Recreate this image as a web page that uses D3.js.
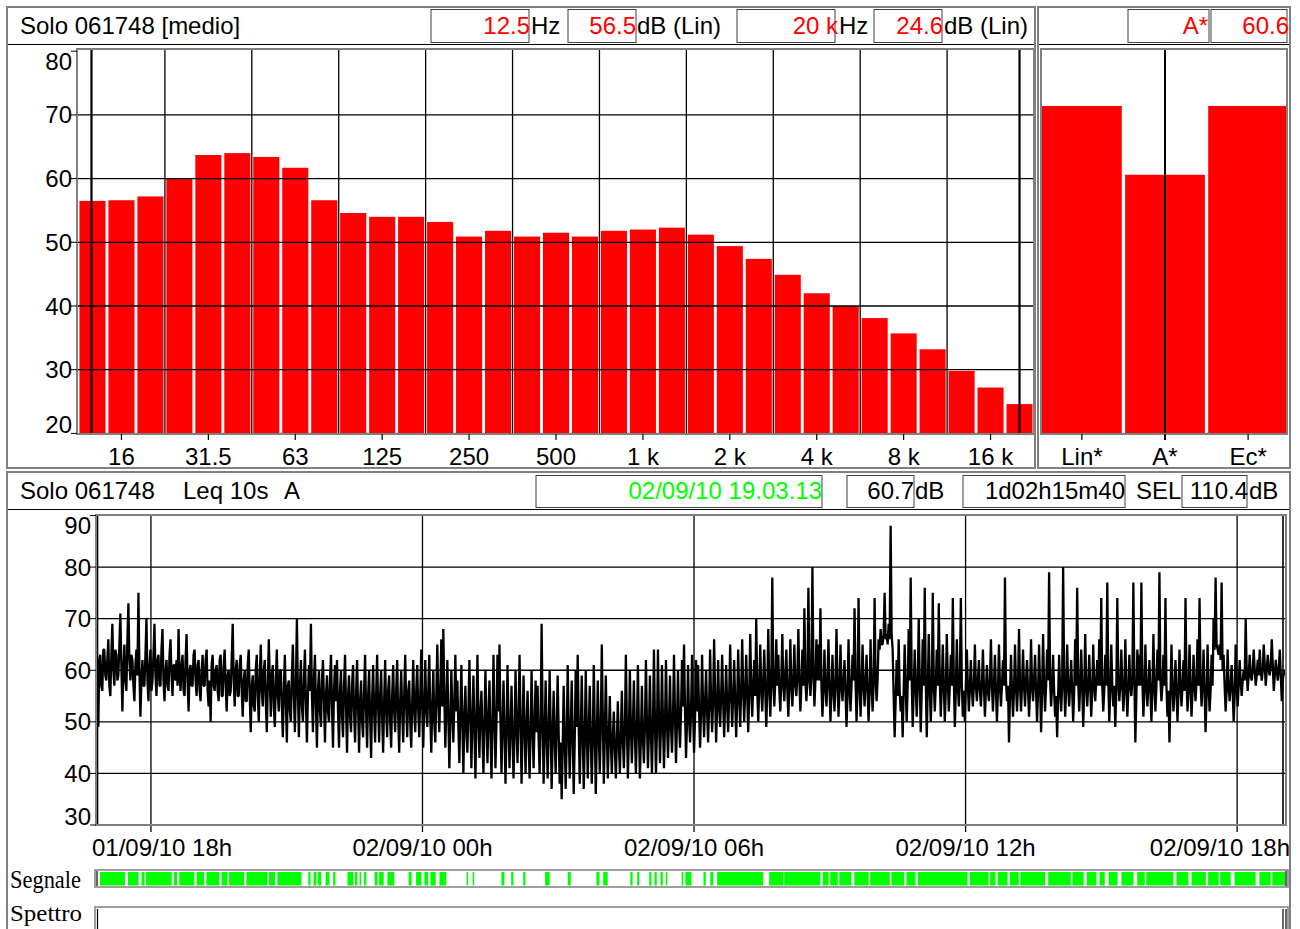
<!DOCTYPE html>
<html>
<head>
<meta charset="utf-8">
<script src="https://cdn.jsdelivr.net/npm/d3@7"></script>
<style>
  body { margin: 0; background: #fff; }
  svg { display: block; }
</style>
</head>
<body>
<svg id="chart" width="1300" height="929"></svg>
<script>
// ---- data ----
const bands = ["12.5","16","20","25","31.5","40","50","63","80","100","125","160","200","250","315","400","500","630","800","1 k","1.25 k","1.6 k","2 k","2.5 k","3.15 k","4 k","5 k","6.3 k","8 k","10 k","12.5 k","16 k","20 k"];
const spectrum = [56.5,56.6,57.2,60.0,63.7,64.0,63.4,61.7,56.6,54.6,54.0,54.0,53.2,50.9,51.8,50.9,51.5,50.9,51.8,52.0,52.3,51.2,49.4,47.4,44.9,42.0,40.0,38.1,35.7,33.2,29.8,27.2,24.6];
const bandTicks = ["16","31.5","63","125","250","500","1 k","2 k","4 k","8 k","16 k"];
const bandGrid = ["25","50","100","200","400","800","1.6 k","3.15 k","6.3 k","12.5 k"];
const totals = ["Lin*","A*","Ec*"];
const totalValues = [71.4, 60.6, 71.4];
const dbTicks = [20,30,40,50,60,70,80];
const leqTicks = [30,40,50,60,70,80,90];
const timeTicks = ["2010-09-01T18:00:00","2010-09-02T00:00:00","2010-09-02T06:00:00","2010-09-02T12:00:00","2010-09-02T18:00:00"];
const leqStart = "2010-09-01T16:47:33";
const leqEnd = "2010-09-02T19:03:13";

// Leq 10s A, decimated (about 80 s per value), dB
const leq = [
  71,58,49,62,63,57,56,64,64,59,58,62,66,57,55,63,69,60,57,64,63,58,59,65,71,61,52,60,65,58,56,66,73,62,58,63,62,57,54,61,
  64,59,75,60,51,58,62,57,57,63,70,58,54,61,64,56,58,63,69,59,55,62,63,57,57,64,68,58,54,60,62,57,56,63,66,59,55,61,61,58,
  62,57,68,59,56,61,63,56,55,62,67,58,52,60,61,57,57,63,64,58,55,61,62,56,54,60,63,57,57,62,64,56,53,58,50,61,63,57,56,60,
  61,56,54,62,63,55,55,61,64,57,52,59,60,55,56,62,69,58,53,60,62,55,55,61,63,56,51,58,60,54,54,61,64,55,48,57,59,53,52,60,
  63,55,50,59,65,56,53,60,62,54,48,57,66,58,51,59,61,53,49,58,64,55,52,60,60,53,47,56,63,54,46,57,58,52,50,59,65,55,48,57,
  70,56,47,57,62,53,50,58,64,54,46,55,61,56,69,55,48,58,63,53,45,56,60,52,49,58,62,54,46,55,59,52,50,58,63,53,45,56,61,54,
  62,52,45,56,60,51,47,57,63,53,44,55,59,51,48,57,61,52,46,55,62,53,44,54,58,50,47,56,63,52,45,55,60,51,43,54,61,52,46,55,
  63,53,46,55,60,51,44,54,62,52,47,56,59,50,45,55,61,52,48,56,62,51,44,54,60,52,46,55,63,53,47,56,58,50,45,54,62,52,48,56,
  61,52,47,55,64,53,45,54,62,52,49,56,63,51,44,53,60,50,46,55,65,54,48,56,66,53,68,55,45,53,62,51,41,50,60,52,46,54,63,52,
  58,49,42,52,61,50,40,51,57,48,44,52,62,51,41,50,59,49,39,50,63,51,43,52,56,48,40,50,60,50,42,51,58,48,39,49,63,51,41,50,
  63,52,65,50,40,49,58,48,38,48,61,50,41,49,57,47,39,48,60,49,42,51,63,50,38,48,59,49,40,49,56,47,39,48,60,49,41,50,58,48,
  57,47,40,49,69,51,38,47,58,48,39,48,60,49,37,47,56,47,40,49,59,48,38,46,35,45,57,47,37,46,61,49,39,48,58,47,36,46,60,49,
  63,49,38,47,59,48,37,46,60,49,39,48,57,47,38,46,61,49,36,46,58,48,40,49,65,51,38,47,59,48,39,47,55,46,40,47,52,45,39,46,
  54,46,40,47,56,47,41,48,63,50,39,47,60,49,42,49,58,48,40,48,61,49,39,47,57,47,42,49,62,50,41,48,59,48,40,49,64,50,40,48,
  64,51,42,49,61,50,41,49,62,50,43,50,59,49,44,51,63,51,42,50,60,50,45,52,62,53,65,52,43,50,61,51,46,52,63,52,44,51,62,52,
  61,52,45,52,63,53,47,54,60,52,46,53,64,54,48,54,66,55,46,53,62,53,49,55,63,54,47,54,61,53,48,55,65,55,49,55,62,54,47,54,
  64,55,49,56,66,56,50,56,63,55,48,55,67,57,51,57,62,55,70,56,50,57,65,56,52,58,64,56,49,56,68,57,51,57,78,58,53,58,66,57,
  63,56,52,58,67,57,54,59,64,56,51,57,66,57,53,58,65,57,55,59,68,58,52,57,64,57,72,58,54,58,76,59,55,59,80,60,53,58,66,58,
  65,58,72,57,51,56,64,57,53,58,66,57,50,56,63,56,52,57,68,58,51,56,65,57,54,58,62,56,49,55,66,57,52,57,63,58,72,58,50,56,
  74,58,51,57,65,57,53,58,63,56,50,56,66,57,52,57,74,59,54,58,66,64,68,65,65,67,75,66,67,65,69,66,88,67,64,55,47,54,62,55,
  66,56,52,55,47,56,65,57,50,57,68,58,78,58,49,56,64,57,51,57,70,58,48,56,66,57,76,58,47,56,67,57,50,56,75,58,52,57,64,57,
  73,58,51,57,65,57,50,56,67,58,52,57,63,57,74,58,49,56,66,57,53,58,74,57,51,56,50,57,64,57,52,57,62,56,53,57,65,57,54,58,
  62,56,53,57,64,57,51,56,61,56,54,58,66,57,52,57,63,56,50,56,65,57,53,57,62,57,78,58,54,57,46,55,63,56,51,56,65,57,52,57,
  68,57,52,57,64,57,53,58,62,56,51,56,66,57,54,58,63,56,50,56,65,57,48,56,67,57,52,57,64,58,79,58,53,57,63,56,51,55,47,55,
  63,56,52,57,80,58,51,56,65,57,53,57,62,56,50,56,66,57,76,58,52,57,64,57,49,56,67,57,53,57,63,57,51,56,65,57,54,58,62,57,
  66,57,74,57,52,56,63,57,77,58,50,56,65,57,53,57,49,56,74,58,54,57,64,57,52,56,66,57,51,56,63,57,55,58,77,58,46,55,64,57,
  63,57,77,58,51,56,65,57,53,57,62,56,50,56,67,57,52,57,64,58,79,58,54,57,63,57,74,57,51,56,46,55,65,57,52,56,62,56,50,56,
  64,57,53,57,62,56,74,58,52,56,65,57,51,56,63,57,54,58,66,57,74,58,53,57,64,56,48,55,65,57,52,56,63,57,70,64,78,65,64,63,
  65,62,77,60,63,57,52,56,64,57,54,57,61,56,50,55,65,57,53,57,62,58,55,58,60,58,70,60,56,59,63,59,58,60,64,60,57,59,62,59,
  64,60,58,60,65,61,57,60,63,60,59,61,66,61,56,59,62,60,58,60,64,59,54,58,60,59
];

// "Segnale" flag on, minutes after start
const segnaleOn = [
  [5,38],[42,56],[60,64],[66,100],[103,107],[110,130],[133,143],[146,163],[166,174],[176,196],
  [199,227],[229,237],[240,272],[281,284],[288,292],[294,298],[304,309],[314,317],[333,341],[343,346],
  [349,351],[355,358],[369,373],[375,381],[386,395],[414,418],[424,431],[435,440],[443,450],[455,464],
  [491,493],[499,501],[537,541],[550,553],[566,569],[595,601],[625,629],[663,667],[672,678],[708,711],
  [717,720],[733,736],[740,743],[748,751],[755,757],[776,778],[781,789],[805,808],[814,818],[823,884],
  [892,911],[912,960],[963,971],[973,983],[985,1001],[1005,1024],[1026,1052],[1054,1071],[1074,1086],[1089,1155],
  [1158,1183],[1185,1192],[1195,1208],[1211,1223],[1225,1258],[1262,1292],[1294,1309],[1313,1326],[1330,1337],[1342,1354],
  [1359,1375],[1380,1390],[1392,1428],[1432,1448],[1452,1471],[1474,1488],[1490,1504],[1509,1537],[1542,1557],[1559,1576]
];

// ---- drawing ----
const svg = d3.select("#chart");
const SANS = "'Liberation Sans', Arial, sans-serif";
const SERIF = "'Liberation Serif', 'Times New Roman', serif";
const RED = "#ff0000", GREEN = "#00ff00", GRAY = "#808080";

function frame(x, y, w, h, stroke, sw) {
  return svg.append("rect").attr("x", x).attr("y", y).attr("width", w).attr("height", h)
    .attr("fill", "none").attr("stroke", stroke).attr("stroke-width", sw);
}
function hline(x1, x2, y, stroke, sw) {
  return svg.append("line").attr("x1", x1).attr("x2", x2).attr("y1", y).attr("y2", y)
    .attr("stroke", stroke).attr("stroke-width", sw);
}
function vline(x, y1, y2, stroke, sw) {
  return svg.append("line").attr("x1", x).attr("x2", x).attr("y1", y1).attr("y2", y2)
    .attr("stroke", stroke).attr("stroke-width", sw);
}
function label(x, y, str, opts = {}) {
  return svg.append("text").attr("x", x).attr("y", y).text(str)
    .attr("font-family", opts.family || SANS).attr("font-size", opts.size || 24)
    .attr("fill", opts.color || "#000").attr("text-anchor", opts.anchor || "start");
}
function box(x1, x2, y1, y2) {
  svg.append("rect").attr("x", x1).attr("y", y1).attr("width", x2 - x1).attr("height", y2 - y1)
    .attr("fill", "none").attr("stroke", "#404040").attr("stroke-width", 1);
}

// panels
frame(7, 7, 1028, 461, GRAY, 2);
frame(1038, 7, 252, 461, GRAY, 2);
frame(7, 472, 1283, 470, GRAY, 2);
hline(8, 1034, 44.5, "#000", 1);
hline(1039, 1289, 44.5, "#000", 1);
hline(8, 1289, 509.5, "#000", 1);

// top-left header
label(20, 34, "Solo 061748 [medio]");
box(431, 529, 9.5, 42.5); box(568, 636, 9.5, 42.5); box(737, 835, 9.5, 42.5); box(874, 942, 9.5, 42.5);
label(530, 34, "12.5", { color: RED, anchor: "end" }); label(531, 34, "Hz");
label(636, 34, "56.5", { color: RED, anchor: "end" }); label(637, 34, "dB (Lin)");
label(838, 34, "20 k", { color: RED, anchor: "end" }); label(839, 34, "Hz");
label(943, 34, "24.6", { color: RED, anchor: "end" }); label(944, 34, "dB (Lin)");

// top-right header
box(1128, 1209, 9.5, 42.5); box(1211, 1287, 9.5, 42.5);
label(1208, 34, "A*", { color: RED, anchor: "end" });
label(1289, 34, "60.6", { color: RED, anchor: "end" });

// spectrum
const y = d3.scaleLinear().domain([20, 80]).range([433.4, 51.2]);
const x = d3.scaleBand().domain(bands).range([78, 1034]).paddingInner(0.1).paddingOuter(0.05);
const gap = x.step() * 0.1;

svg.append("g").selectAll("rect").data(spectrum).join("rect")
  .attr("x", (d, i) => x(bands[i])).attr("y", d => y(d))
  .attr("width", x.bandwidth()).attr("height", d => y(20) - y(d)).attr("fill", RED);

dbTicks.filter(d => d > 20 && d < 80).forEach(d => hline(77, 1034, y(d), "#000", 1.3));
bandGrid.forEach(b => vline(x(b) - gap / 2, 49, 434, "#000", 1.3));
vline(x(bands[0]) + x.bandwidth() / 2 - 1, 49, 434, "#000", 2.2);
vline(x(bands[bands.length - 1]) + x.bandwidth() / 2, 49, 434, "#000", 2.2);
frame(77, 49, 957, 385, GRAY, 2);

dbTicks.forEach(d => {
  hline(71, 77, y(d), "#000", 1);
  const cy = Math.max(61, Math.min(424, y(d)));
  label(72, cy + 8.5, d, { anchor: "end" });
});
bandTicks.forEach(b => {
  const cx = x(b) + x.bandwidth() / 2;
  vline(cx, 434, 440, "#000", 1.2);
  label(cx, 465, b, { anchor: "middle" });
});

// totals panel
const xt = d3.scaleBand().domain(totals).range([1042, 1288]).paddingInner(0.04).paddingOuter(0);
svg.append("g").selectAll("rect").data(totalValues).join("rect")
  .attr("x", (d, i) => xt(totals[i])).attr("y", d => y(d))
  .attr("width", xt.bandwidth()).attr("height", d => y(20) - y(d)).attr("fill", RED);
vline(xt("A*") + xt.bandwidth() / 2, 49, 440, "#000", 2);
frame(1041, 49, 246, 385, GRAY, 2);
totals.forEach(t => {
  const cx = xt(t) + xt.bandwidth() / 2;
  vline(cx, 434, 440, "#000", 1.2);
  label(cx, 465, t, { anchor: "middle" });
});

// bottom header
label(20, 499, "Solo 061748");
label(183, 499, "Leq 10s");
label(284, 499, "A");
box(536, 822, 475.5, 507.5); box(847, 914, 475.5, 507.5); box(963, 1125, 475.5, 507.5); box(1182, 1247, 475.5, 507.5);
label(822, 499, "02/09/10 19.03.13", { color: GREEN, anchor: "end" });
label(914, 499, "60.7", { anchor: "end" }); label(915, 499, "dB");
label(1125, 499, "1d02h15m40", { anchor: "end" });
label(1136, 499, "SEL");
label(1248, 499, "110.4", { anchor: "end" }); label(1249, 499, "dB");

// time history
const t0 = new Date(leqStart), t1 = new Date(leqEnd);
const xs = d3.scaleTime().domain([t0, t1]).range([96.3, 1284.8]);
const ys = d3.scaleLinear().domain([30, 90]).range([825, 515.5]);
const stepMs = (t1 - t0) / (leq.length - 1);
const leqPts = leq.map((v, i) => [new Date(+t0 + i * stepMs), v]);

leqTicks.filter(d => d > 30 && d < 90).forEach(d => hline(96, 1286, ys(d), "#000", 1.3));
const ticksT = timeTicks.map(s => new Date(s));
ticksT.forEach(t => vline(xs(t), 515, 832, "#000", 1.3));

svg.append("path").datum(leqPts)
  .attr("d", d3.line().x(d => xs(d[0])).y(d => ys(d[1])))
  .attr("fill", "none").attr("stroke", "#000").attr("stroke-width", 2.3).attr("stroke-linejoin", "bevel");

vline(97.5, 515, 825, "#000", 1.6);
vline(1283, 515, 825, "#000", 1.6);
frame(96, 515, 1190, 310, GRAY, 2);

leqTicks.forEach(d => {
  hline(90, 96, ys(d), "#000", 1);
  const cy = Math.max(525, Math.min(816, ys(d)));
  label(91, cy + 8.5, d, { anchor: "end" });
});
const fmt = d3.timeFormat("%d/%m/%y %Hh");
ticksT.forEach(t => {
  const lab = label(xs(t), 856, fmt(t), { anchor: "middle" });
  const w = lab.node().getComputedTextLength();
  const cx = Math.max(92 + w / 2, Math.min(1290 - w / 2, xs(t)));
  lab.attr("x", cx);
});

// Segnale / Spettro strips
label(10, 888, "Segnale", { family: SERIF, size: 25 }).attr("textLength", 71).attr("lengthAdjust", "spacingAndGlyphs");
frame(95, 870, 1193, 17, GRAY, 1.5);
svg.append("g").selectAll("rect").data(segnaleOn).join("rect")
  .attr("x", d => xs(new Date(+t0 + d[0] * 60000)))
  .attr("width", d => xs(new Date(+t0 + d[1] * 60000)) - xs(new Date(+t0 + d[0] * 60000)))
  .attr("y", 872).attr("height", 13.5).attr("fill", GREEN);
vline(97, 871, 886, "#000", 1.2);
vline(1286, 871, 886, "#000", 1.2);

label(10, 921, "Spettro", { family: SERIF, size: 24 }).attr("textLength", 72).attr("lengthAdjust", "spacingAndGlyphs");
frame(95, 907, 1193, 30, GRAY, 1.5);
vline(97.5, 909, 929, "#000", 1.2);
vline(1283, 909, 929, "#000", 1.2);
vline(1286, 909, 929, "#000", 1.2);
</script>
</body>
</html>
